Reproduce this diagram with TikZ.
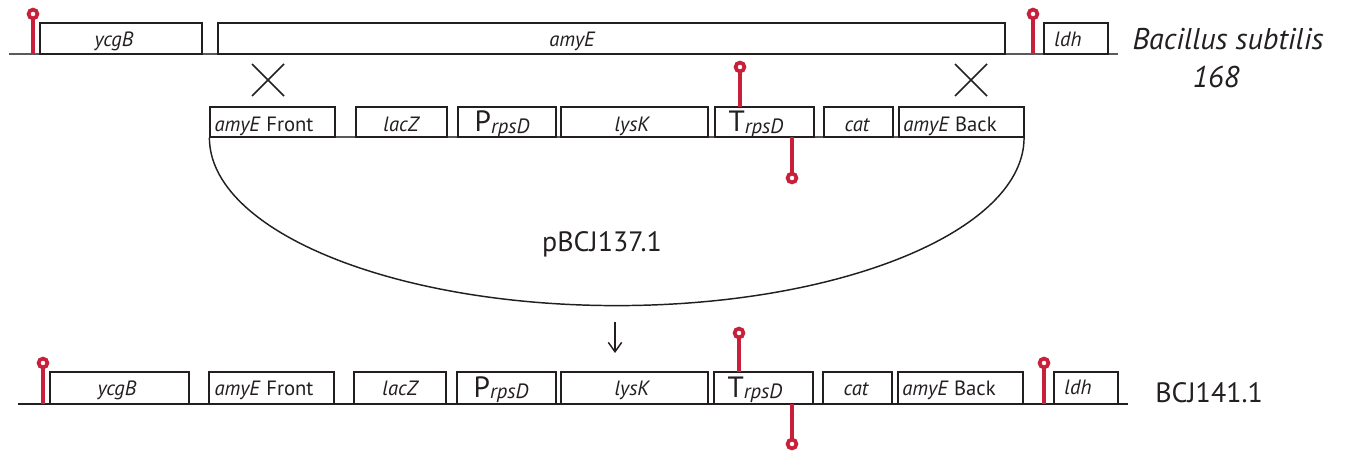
\documentclass[tikz,border=0pt]{standalone}
\usepackage{fontspec}
\setmainfont{PT Sans}
\usetikzlibrary{fit,arrows.meta}
\definecolor{term}{RGB}{200,32,58}
\definecolor{ink}{RGB}{35,31,32}
\definecolor{baseg}{RGB}{90,90,90}
\newcommand{\myPrps}{{\fontsize{22}{22}\selectfont P}\raisebox{-1pt}{\itshape rpsD}}
\newcommand{\myTrps}{{\fontsize{22}{22}\selectfont T}\raisebox{-1pt}{\itshape rpsD}}
\newcommand{\gbox}[5]{\node[box, fit={(#2,#3) (#4,#5)}] (#1) {};}
\begin{document}
\begin{tikzpicture}[x=0.75pt,y=-0.75pt,
  box/.style={draw=ink, line width=0.9pt, inner sep=0pt, fill=white},
  lbl/.style={anchor=base, inner sep=0pt, text=ink, font=\fontsize{15.5}{16}\selectfont},
  big/.style={anchor=base, inner sep=0pt, text=ink, font=\fontsize{21}{22}\selectfont},
  chrom/.style={draw=baseg, line width=0.9pt},
  chromk/.style={draw=ink, line width=0.9pt},
  stem/.style={draw=term, line width=3pt},
  ring/.style={draw=term, line width=2.8pt, fill=white},
  cross/.style={draw=ink, line width=1.1pt},
  loop/.style={draw=ink, line width=1.1pt}]
\useasboundingbox (0,0) rectangle (1345,452);

% ---------- top row: Bacillus subtilis 168 ----------
\coordinate (c1l) at (9,54);
\coordinate (c1r) at (1118,54);
\draw[chrom] (c1l) -- (c1r);
\gbox{tycgB}{40}{23}{202}{54}
\gbox{tamyE}{218}{23}{1005}{54}
\gbox{tldh}{1044}{23}{1108}{54}
\node[lbl] (ltycgB) at (114,47) {\itshape ycgB};
\node[lbl] (ltamyE) at (572,47) {\itshape amyE};
\node[lbl] (ltldh) at (1068,47) {\itshape ldh};
\coordinate (tt1) at (33,14);
\draw[stem] (33,54) -- (tt1);
\draw[ring] (tt1) circle[radius=3.3pt];
\coordinate (tt2) at (1033,14);
\draw[stem] (1033,54) -- (tt2);
\draw[ring] (tt2) circle[radius=3.3pt];
\node[big, font=\fontsize{22.5}{23}\selectfont\itshape] (bs) at (1228,50) {Bacillus subtilis};
\node[big, font=\fontsize{22.5}{23}\selectfont\itshape] (bs168) at (1216,88) {168};

% crossover marks
\draw[cross] (252,64) -- (284,96) (252,96) -- (284,64);
\draw[cross] (955,64) -- (987,96) (955,96) -- (987,64);

% ---------- middle row: plasmid pBCJ137.1 ----------
\draw[chrom] (210,137) -- (1024,137);
\gbox{mafront}{210}{107}{335}{137}
\gbox{mlacZ}{356}{107}{447}{137}
\gbox{mprpsD}{458}{107}{556}{137}
\gbox{mlysK}{561}{107}{708}{137}
\gbox{mtrpsD}{715}{107}{814}{137}
\gbox{mcat}{824}{107}{893}{137}
\gbox{maback}{899}{107}{1024}{137}
\node[lbl] (lmafront) at (264,132) {\textit{amyE} Front};
\node[lbl] (lmlacZ) at (401,132) {\itshape lacZ};
\node[lbl] (lmprpsD) at (502,132) {\myPrps};
\node[lbl] (lmlysK) at (632,132) {\itshape lysK};
\node[lbl] (lmtrpsD) at (756,132) {\myTrps};
\node[lbl] (lmcat) at (857,132) {\itshape cat};
\node[lbl] (lmaback) at (950,132) {\textit{amyE} Back};
\coordinate (mt1) at (740,67);
\draw[stem] (740,107) -- (mt1);
\draw[ring] (mt1) circle[radius=3.3pt];
\coordinate (mt2) at (792,178);
\draw[stem] (792,137) -- (mt2);
\draw[ring] (mt2) circle[radius=3.3pt];
\draw[loop] (mafront.south west) arc[start angle=180, end angle=360, x radius=305.5pt, y radius=126pt];
\node[big] (plasmid) at (602,252) {pBCJ137.1};

% arrow
\coordinate (a1) at (615,322);
\coordinate (a2) at (615,353);
\draw[draw=ink, line width=1.1pt, -{Straight Barb[length=7pt,width=10pt]}] (a1) -- (a2);

% ---------- bottom row: BCJ141.1 ----------
\draw[chromk] (18,404) -- (1128,404);
\gbox{bycgB}{50}{372}{189}{404}
\gbox{bafront}{209}{372}{334}{404}
\gbox{blacZ}{354}{372}{446}{404}
\gbox{bprpsD}{457}{372}{556}{404}
\gbox{blysK}{561}{372}{708}{404}
\gbox{btrpsD}{714}{372}{813}{404}
\gbox{bcat}{823}{372}{892}{404}
\gbox{baback}{898}{372}{1023}{404}
\gbox{bldh}{1054}{372}{1118}{404}
\node[lbl] (lbycgB) at (117,395) {\itshape ycgB};
\node[lbl] (lbafront) at (264,395) {\textit{amyE} Front};
\node[lbl] (lblacZ) at (400,395) {\itshape lacZ};
\node[lbl] (lbprpsD) at (501,397) {\myPrps};
\node[lbl] (lblysK) at (632,395) {\itshape lysK};
\node[lbl] (lbtrpsD) at (755,397) {\myTrps};
\node[lbl] (lbcat) at (856,395) {\itshape cat};
\node[lbl] (lbaback) at (949,395) {\textit{amyE} Back};
\node[lbl] (lbldh) at (1078,394) {\itshape ldh};
\coordinate (bt1) at (43,363);
\draw[stem] (43,404) -- (bt1);
\draw[ring] (bt1) circle[radius=3.3pt];
\coordinate (bt2) at (1044,363);
\draw[stem] (1044,404) -- (bt2);
\draw[ring] (bt2) circle[radius=3.3pt];
\coordinate (bt3) at (739,333);
\draw[stem] (739,372) -- (bt3);
\draw[ring] (bt3) circle[radius=3.3pt];
\coordinate (bt4) at (792,444);
\draw[stem] (792,404) -- (bt4);
\draw[ring] (bt4) circle[radius=3.3pt];
\node[big] (bcj) at (1209,402) {BCJ141.1};
\end{tikzpicture}
\end{document}
